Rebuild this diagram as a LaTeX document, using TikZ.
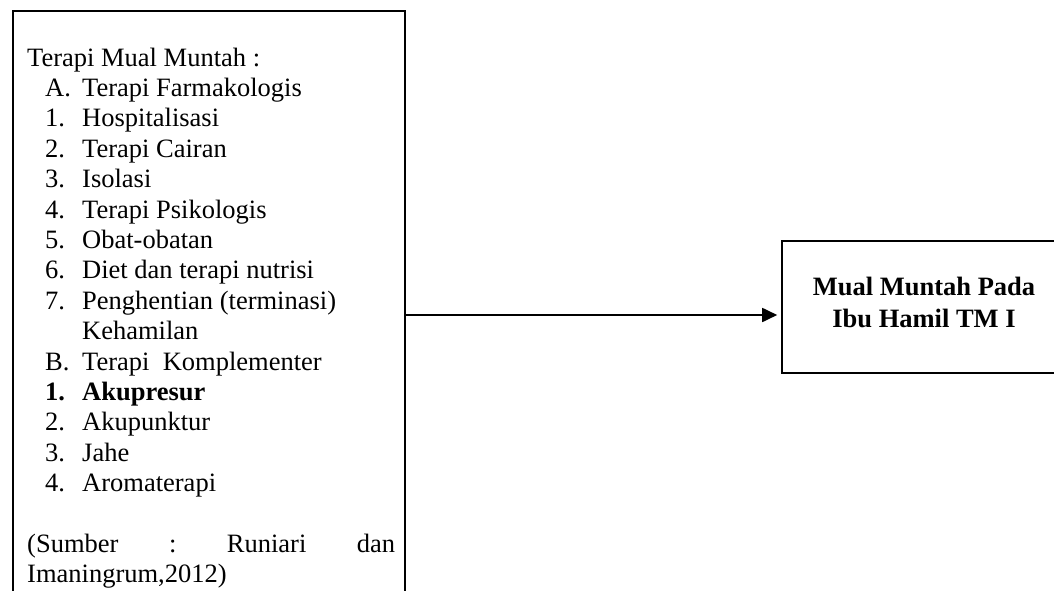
\documentclass[tikz,border=0pt]{standalone}
\usepackage{fontspec}
\setmainfont{Liberation Serif}
\usepackage{tikz}
\usetikzlibrary{arrows.meta,positioning,calc}

\newcommand{\listitem}[2]{\hspace*{18pt}\makebox[37pt][l]{#1}#2}

\begin{document}
\begin{tikzpicture}[x=1pt,y=-1pt,
    frame/.style={draw, rectangle, line width=1.6pt, inner sep=0pt},
    body/.style={font=\fontsize{26.5}{30.4}\selectfont}]
    \useasboundingbox (0,0) rectangle (1054,591);
    \clip (0,0) rectangle (1054,591);

    \node[frame, minimum width=392pt, minimum height=640pt, anchor=north west] (therapy) at (12,10) {};
    \node[body, align=left, inner sep=0pt, anchor=north west] (therapylist) at (27,47.6) {%
      Terapi Mual Muntah :\\
      \listitem{A.}{Terapi Farmakologis}\\
      \listitem{1.}{Hospitalisasi}\\
      \listitem{2.}{Terapi Cairan}\\
      \listitem{3.}{Isolasi}\\
      \listitem{4.}{Terapi Psikologis}\\
      \listitem{5.}{Obat-obatan}\\
      \listitem{6.}{Diet dan terapi nutrisi}\\
      \listitem{7.}{Penghentian (terminasi)}\\
      \hspace*{55pt}Kehamilan\\
      \listitem{B.}{Terapi~ Komplementer}\\
      \listitem{\textbf{1.}}{\textbf{Akupresur}}\\
      \listitem{2.}{Akupunktur}\\
      \listitem{3.}{Jahe}\\
      \listitem{4.}{Aromaterapi}\\
      \mbox{}\\
      \hbox to 368pt{(Sumber\hfill:\hfill Runiari\hfill dan}\\
      Imaningrum,2012)};

    \node[frame, minimum width=284pt, minimum height=132pt] (outcome) at (924,306.7) {};
    \node[align=center, font=\fontsize{26.5}{32}\selectfont\bfseries] (outcomelabel) at ([yshift=4.7pt]outcome.center) {Mual Muntah Pada\\Ibu Hamil TM I};

    \coordinate (tip) at ([xshift=-4pt,yshift=-8.3pt]outcome.west);
    \draw[line width=1.8pt, -{Triangle[length=15pt,width=14pt]}] (therapy.east |- tip) -- (tip);
\end{tikzpicture}
\end{document}
